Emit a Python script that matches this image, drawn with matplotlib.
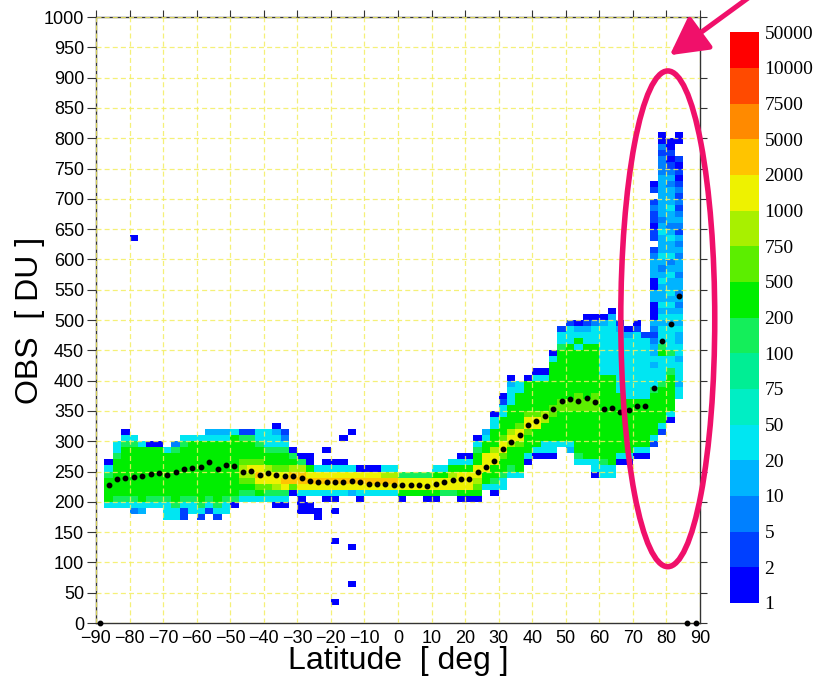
import numpy as np
import matplotlib
matplotlib.use("Agg")
import matplotlib.pyplot as plt
from matplotlib.colors import ListedColormap, BoundaryNorm
from matplotlib.patches import Ellipse
from matplotlib.cm import ScalarMappable

plt.rcParams['font.family'] = ['Liberation Sans', 'DejaVu Sans']

# colour classes (counts per cell)
bounds = [1, 2, 5, 10, 20, 50, 75, 100, 200, 500, 750, 1000, 2000, 5000, 7500, 10000, 50000]
colors = ['#0000ff', '#0040ff', '#0080ff', '#00b4ff', '#00e6f2', '#00eec4',
          '#00ee94', '#14ee5a', '#00ee00', '#5cee00', '#a8f000', '#eef200',
          '#ffc400', '#ff8a00', '#ff4a00', '#ff0000']

# 2.5 deg x 10 DU cells: left edge of latitude bin, lowest DU row, class per row (hex, '.' = empty)
col_lat = [-87.5, -85, -82.5, -80, -77.5, -75, -72.5, -70, -67.5, -65, -62.5, -60,
           -57.5, -55, -52.5, -50, -47.5, -45, -42.5, -40, -37.5, -35, -32.5, -30,
           -27.5, -25, -22.5, -20, -17.5, -15, -12.5, -10, -7.5, -5, -2.5, 0,
           2.5, 5, 7.5, 10, 12.5, 15, 17.5, 20, 22.5, 25, 27.5, 30,
           32.5, 35, 37.5, 40, 42.5, 45, 47.5, 50, 52.5, 55, 57.5, 60,
           62.5, 65, 67.5, 70, 72.5, 75, 77.5, 80, 82.5]
col_base = [190, 190, 190, 180, 180, 190, 190, 170, 170, 170, 180, 170,
            180, 170, 180, 190, 200, 200, 200, 200, 190, 190, 210, 180,
            180, 170, 200, 180, 210, 210, 200, 210, 210, 210, 210, 200,
            210, 210, 200, 200, 210, 210, 200, 200, 200, 220, 210, 220,
            240, 240, 260, 270, 270, 270, 290, 280, 260, 260, 240, 240,
            240, 260, 260, 270, 270, 290, 310, 330, 370]
col_cells = [
    "48888740", "47888888744", "4788888888740", "2478888888874",
    "348888888884", "47888888880", "47888888880", "444788888884",
    "4478888888872", "11478888888874", "4478888888884", "14788888888884",
    "14788888888843", "147888888888843", "44788888888843", "0788888888884",
    "4789aa988871", "4789ab988871", "489bcb988744", "479bba887444",
    "047abb98874430", "047bcb9887421", "09cca870", "0004bcca70",
    "00.4bcb800", "00..4bcb4", "04bcb40.0", "0.04bcb40",
    "4bcb40", "3bcb4", "04bcb0", "4bcb0",
    "4bcb0", "4bca4", "4bca4", "08bb7",
    "8bb7", "8bb7", "08bb7", "08bb84",
    "7bb84", "7bba84", "08bbb840", "08bbb840",
    "089abb88740", "488bbb8843", "04788bba888440", "447889bb98884410",
    "47888aba888844430", "488889bb98888844", "048889bb9888880", "04888bb98888840",
    "044888aa8888840", "044888899888888840", "48888899888888887441",
    "3488888998888888884441",
    "478888888999888888848430",
    "4" "88888888" "99" "888888888" "44310",
    "044" "88888888" "999" "88888888" "44420",
    "447" "88888888888888" "44444444" "30",
    "448" "88888888888888" "444444444" "30",
    "04" "8888888888" "4444444444" "31",
    "04" "888888888" "4444444444" "30",
    "04" "88888888" "44444444444" "10",
    "04" "88888888" "4444444444" "1",
    "14" "8888888" "744434332123000330033321" ".1101121.10",
    "14" "888888" "7" "4444" "87444" "3434333432343334323333333222120" "0",
    "0488888874474" "44" "43434343343243343233433323210100",
    "4434443443" "3434323233" "2332323123" "2121210101" "..00",
]

# isolated single-count cells
out_lat = [-80, -17.5, -15, -20, -15, -15, -20]
out_du = [630, 300, 310, 130, 120, 60, 30]

# mean OBS per latitude bin (black dots)
mean_lat = np.arange(-88.75, 90, 2.5)
mean_obs = [0, 227, 237, 240, 241, 243, 246, 247, 245, 249, 254,
            255, 258, 265, 254, 261, 259, 250, 251, 245, 247,
            245, 242, 243, 239, 235, 233, 232, 233, 232, 234,
            233, 230, 230, 230, 227, 227, 227,
            227, 226, 229, 232, 236, 237, 238, 250, 257, 267,
            287, 298, 311, 326, 334, 342, 353, 367, 369, 366,
            371, 365, 353, 355, 349, 351, 358, 358, 388, 465,
            494, 539, 0, 0]

lat_edges = np.arange(-90, 92.5, 2.5)
du_edges = np.arange(0, 1010, 10)

Z = np.full((len(du_edges) - 1, len(lat_edges) - 1), np.nan)
for lat, base, cells in zip(col_lat, col_base, col_cells):
    i = int(round((lat + 90) / 2.5))
    for j, ch in enumerate(cells):
        if ch != '.':
            Z[base // 10 + j, i] = int(ch, 16)
for lat, du in zip(out_lat, out_du):
    Z[du // 10, int(round((lat + 90) / 2.5))] = 0

cmap = ListedColormap(colors)

fig = plt.figure(figsize=(8.21, 6.86), dpi=100)
ax = fig.add_axes([0.1169, 0.0918, 0.7357, 0.8834])

ax.pcolormesh(lat_edges, du_edges, np.ma.masked_invalid(Z), cmap=cmap,
              vmin=-0.5, vmax=15.5, shading='flat', antialiased=False)

ax.plot(mean_lat, mean_obs, 'o', color='black', markersize=3.2, clip_on=False, zorder=5)

ax.set_xlim(-90, 90)
ax.set_ylim(0, 1000)
ax.set_xticks(np.arange(-90, 91, 10))
ax.set_yticks(np.arange(0, 1001, 50))
ax.grid(True, color='#f4ee60', linestyle=(0, (4, 2.5)), linewidth=0.9, alpha=0.85)
ax.set_axisbelow(False)

ax.tick_params(axis='y', direction='out', length=6.5, width=0.8,
               labelsize=13, pad=2, right=True, colors='#333333', labelcolor='black')
ax.tick_params(axis='x', direction='out', length=5, width=0.8,
               labelsize=13, pad=0, top=True, colors='#333333', labelcolor='black')
for t in ax.xaxis.get_major_ticks():
    t.tick1line.set_visible(False)
for t in ax.yaxis.get_major_ticks():
    t.tick2line.set_markersize(5)
for sp in ax.spines.values():
    sp.set_color('#333333')
    sp.set_linewidth(1.0)

ax.set_ylabel('OBS  [ DU ]', fontsize=23)
ax.yaxis.set_label_coords(-0.085, 0.5)
ax.set_xlabel('Latitude  [ deg ]', fontsize=23)
ax.xaxis.set_label_coords(0.5, -0.038)

# highlight of the high-latitude tail
ax.add_patch(Ellipse((80.4, 502), 28, 818, fill=False, edgecolor='#f0106a',
                     linewidth=4, clip_on=False, zorder=6))
ax.annotate('', xy=(81.0, 937), xytext=(105.5, 1036), annotation_clip=False,
            arrowprops=dict(arrowstyle='-|>,head_length=1.15,head_width=0.62',
                            mutation_scale=20, color='#f0106a', lw=3.6,
                            shrinkA=0, shrinkB=0), zorder=7)

# colour bar
cax = fig.add_axes([0.889, 0.121, 0.0353, 0.832])
sm = ScalarMappable(norm=BoundaryNorm(bounds, len(colors)), cmap=cmap)
cb = fig.colorbar(sm, cax=cax, ticks=bounds, spacing='uniform')
cb.outline.set_visible(False)
cb.ax.tick_params(length=0, pad=4)
cb.ax.set_yticklabels([str(b) for b in bounds], fontsize=14, family='Liberation Serif')

fig.savefig('out.png', dpi=100)
